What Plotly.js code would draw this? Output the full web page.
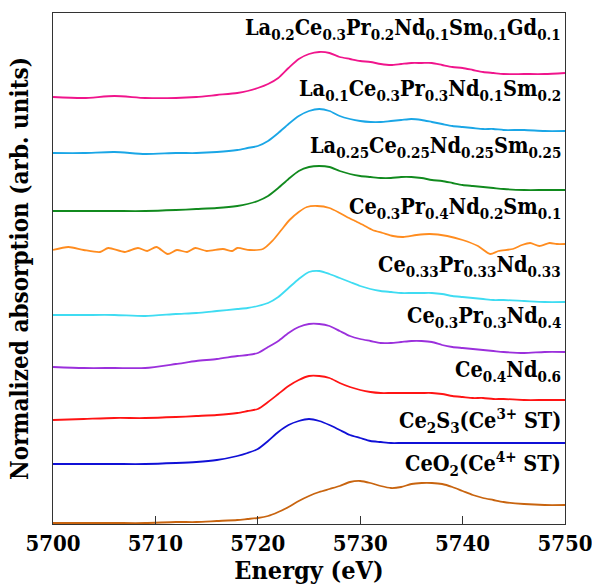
<!DOCTYPE html>
<html>
<head>
<meta charset="utf-8">
<script src="https://cdn.plot.ly/plotly-3.0.1.min.js"></script>
<style>html,body{margin:0;padding:0;background:#fff;}#chart{width:592px;height:585px;}</style>
</head>
<body>
<div id="chart"></div>
<script>
// ---- data (offset-stacked normalized absorption, arb. units) ----
const energy = [5700,5703,5706,5709,5712,5714,5716,5718,5719,5720,5721,5722,5723,5724,5725,5726,5727,5728,5729,5730,5731,5732,5733,5734,5735,5736,5737,5738,5739,5740,5741,5742,5743,5744,5746,5748,5750];
const energyNoisy = [5700,5701.5,5703,5704.6,5705.4,5707,5708.3,5709.2,5710.1,5711.2,5712.1,5713.1,5713.9,5715,5716.6,5717.5,5718,5719.2,5720.5,5721.5,5722.3,5723.1,5724,5724.8,5725.8,5727,5728,5728.7,5729.5,5730.3,5731.2,5732.2,5733.2,5734.2,5735.5,5736.8,5738.5,5740,5741.5,5742.7,5743.5,5744.9,5745.8,5746.6,5747.5,5748.5,5749.2,5750];

const laCePrNdSmGd = [4.27,4.26,4.28,4.26,4.26,4.27,4.29,4.31,4.33,4.36,4.40,4.46,4.56,4.65,4.70,4.72,4.71,4.67,4.65,4.63,4.62,4.60,4.59,4.60,4.61,4.61,4.61,4.59,4.57,4.56,4.54,4.52,4.51,4.50,4.50,4.50,4.51];
const laCePrNdSm = [3.71,3.71,3.72,3.70,3.71,3.71,3.72,3.74,3.76,3.78,3.83,3.91,4.00,4.08,4.13,4.15,4.13,4.08,4.05,4.03,4.02,4.02,4.03,4.04,4.05,4.04,4.02,4.00,3.98,3.97,3.96,3.95,3.95,3.94,3.94,3.93,3.93];
const laCeNdSm = [3.13,3.13,3.13,3.13,3.14,3.15,3.16,3.18,3.20,3.23,3.28,3.36,3.45,3.53,3.57,3.58,3.57,3.53,3.50,3.48,3.47,3.46,3.46,3.47,3.47,3.46,3.44,3.43,3.41,3.39,3.38,3.37,3.36,3.35,3.34,3.34,3.34];
const cePrNdSm = [2.74,2.77,2.74,2.72,2.76,2.72,2.76,2.73,2.77,2.70,2.74,2.72,2.76,2.73,2.75,2.73,2.76,2.74,2.75,2.84,2.94,3.04,3.12,3.17,3.18,3.16,3.11,3.07,3.03,2.99,2.94,2.91,2.88,2.87,2.89,2.90,2.88,2.84,2.78,2.70,2.73,2.75,2.79,2.81,2.78,2.81,2.80,2.80];
const cePrNd333 = [2.09,2.09,2.09,2.08,2.10,2.11,2.13,2.15,2.16,2.18,2.21,2.27,2.36,2.45,2.52,2.53,2.50,2.46,2.42,2.38,2.35,2.33,2.32,2.31,2.31,2.31,2.31,2.30,2.28,2.27,2.26,2.25,2.24,2.24,2.23,2.22,2.22];
const cePrNd334 = [1.57,1.56,1.56,1.56,1.60,1.63,1.65,1.68,1.69,1.71,1.77,1.83,1.91,1.97,2.00,2.00,1.98,1.93,1.88,1.85,1.83,1.81,1.81,1.82,1.83,1.83,1.82,1.79,1.77,1.76,1.75,1.74,1.73,1.72,1.71,1.72,1.72];
const ceNd = [1.04,1.05,1.06,1.06,1.07,1.08,1.09,1.11,1.13,1.15,1.22,1.30,1.38,1.44,1.48,1.48,1.46,1.41,1.37,1.34,1.32,1.31,1.31,1.31,1.31,1.31,1.31,1.30,1.28,1.27,1.26,1.26,1.25,1.25,1.24,1.24,1.24];
const ce2s3 = [0.60,0.60,0.60,0.60,0.61,0.62,0.64,0.68,0.71,0.75,0.83,0.92,0.99,1.03,1.05,1.03,0.99,0.94,0.89,0.86,0.83,0.82,0.81,0.81,0.81,0.81,0.81,0.81,0.81,0.81,0.81,0.81,0.81,0.81,0.81,0.81,0.81];
const ceo2 = [0.01,0.01,0.01,0.01,0.02,0.02,0.03,0.04,0.05,0.06,0.08,0.12,0.17,0.23,0.28,0.32,0.35,0.38,0.42,0.43,0.41,0.38,0.36,0.37,0.40,0.41,0.41,0.40,0.37,0.33,0.29,0.26,0.24,0.22,0.20,0.19,0.19];

const labels = [
  'La<sub>0.2</sub>Ce<sub>0.3</sub>Pr<sub>0.2</sub>Nd<sub>0.1</sub>Sm<sub>0.1</sub>Gd<sub>0.1</sub>',
  'La<sub>0.1</sub>Ce<sub>0.3</sub>Pr<sub>0.3</sub>Nd<sub>0.1</sub>Sm<sub>0.2</sub>',
  'La<sub>0.25</sub>Ce<sub>0.25</sub>Nd<sub>0.25</sub>Sm<sub>0.25</sub>',
  'Ce<sub>0.3</sub>Pr<sub>0.4</sub>Nd<sub>0.2</sub>Sm<sub>0.1</sub>',
  'Ce<sub>0.33</sub>Pr<sub>0.33</sub>Nd<sub>0.33</sub>',
  'Ce<sub>0.3</sub>Pr<sub>0.3</sub>Nd<sub>0.4</sub>',
  'Ce<sub>0.4</sub>Nd<sub>0.6</sub>',
  'Ce<sub>2</sub>S<sub>3</sub>(Ce<sup>3+</sup> ST)',
  'CeO<sub>2</sub>(Ce<sup>4+</sup> ST)'
];
const xTicks = [5700,5710,5720,5730,5740,5750];

// ---- styling ----
const FONT_COND = 'DejaVu Serif Condensed';
const series = [
  {x: energy, y: laCePrNdSmGd, color: '#f0158c'},
  {x: energy, y: laCePrNdSm, color: '#1aa6e6'},
  {x: energy, y: laCeNdSm, color: '#118a1e'},
  {x: energyNoisy, y: cePrNdSm, color: '#ff8c1f'},
  {x: energy, y: cePrNd333, color: '#3fdcf2'},
  {x: energy, y: cePrNd334, color: '#9b30dc'},
  {x: energy, y: ceNd, color: '#ff1414'},
  {x: energy, y: ce2s3, color: '#1010d6'},
  {x: energy, y: ceo2, color: '#c8640f'}
];
const traces = series.map((s, i) => ({
  type: 'scatter', mode: 'lines', x: s.x, y: s.y, name: labels[i],
  line: {color: s.color, width: 1.8, shape: 'spline', smoothing: 0.7}, hoverinfo: 'skip'
}));

const labelY = [4.95, 4.34, 3.77, 3.155, 2.575, 2.065, 1.53, 1.035, 0.60];
const annotations = labels.map((t, i) => ({
  xref: 'x', yref: 'y', x: 5749.8, y: labelY[i], xanchor: 'right', yanchor: 'middle',
  text: '<b>' + t + '</b>', showarrow: false,
  font: {family: FONT_COND, size: 21.5, color: '#000'}
}));

const layout = {
  width: 592, height: 585,
  margin: {l: 53, r: 27, t: 13, b: 61},
  paper_bgcolor: '#fff', plot_bgcolor: '#fff',
  showlegend: false,
  font: {family: FONT_COND, color: '#000'},
  xaxis: {
    range: [5700, 5750], tickvals: xTicks, ticktext: xTicks.map(v => '<b>' + v + '</b>'),
    ticks: 'inside', ticklen: 8, tickwidth: 1, tickcolor: '#333',
    showline: true, linecolor: '#333', linewidth: 1, mirror: true,
    showgrid: false, zeroline: false, ticklabeloverflow: 'allow',
    tickfont: {family: FONT_COND, size: 22, color: '#000'},
    title: {text: '<b>Energy (eV)</b>', font: {family: FONT_COND, size: 25, color: '#000'}, standoff: 0}
  },
  yaxis: {
    range: [0, 5.11], showticklabels: false, ticks: '',
    showline: true, linecolor: '#333', linewidth: 1, mirror: true,
    showgrid: false, zeroline: false,
    title: {text: '<b>Normalized absorption (arb. units)</b>', font: {family: FONT_COND, size: 24, color: '#000'}, standoff: 16}
  },
  annotations: annotations
};

Plotly.newPlot('chart', traces, layout, {displayModeBar: false, staticPlot: true});
</script>
</body>
</html>
